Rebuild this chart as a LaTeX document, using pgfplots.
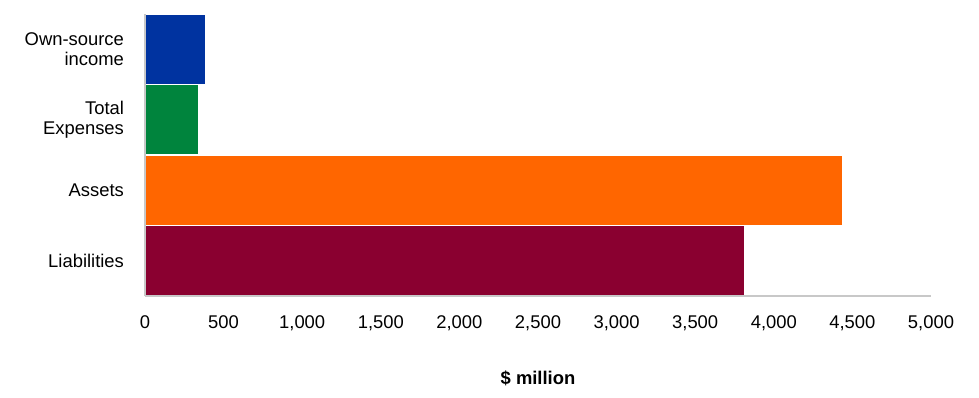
\documentclass[border=0pt]{standalone}
\usepackage{pgfplots}
\pgfplotsset{compat=1.18}
\usepackage{fontspec}
\setmainfont{Liberation Sans}
\definecolor{cblue}{RGB}{0,51,160}
\definecolor{cgreen}{RGB}{0,132,61}
\definecolor{corange}{RGB}{255,102,0}
\definecolor{cmaroon}{RGB}{138,0,48}
\definecolor{axgray}{RGB}{200,200,200}
\begin{document}
\fontsize{13.8}{15.5}\selectfont
\begin{tikzpicture}
\begin{axis}[
  at={(0,0)}, anchor=south west,
  scale only axis,
  width=589.5pt, height=211.5pt,
  xbar, bar shift=0pt, bar width=52.9pt,
  xmin=0, xmax=5000,
  ymin=-0.5, ymax=3.5,
  xtick={0,500,...,5000},
  ytick={0,1,2,3},
  yticklabels={Liabilities,Assets,{Total\\Expenses},{Own-source\\income}},
  axis on top,
  axis x line*=bottom, axis y line*=left,
  axis line style={axgray, line width=0.9pt, -},
  major tick length=0pt,
  x tick label style={yshift=-10pt, font=\fontsize{13.8}{15.5}\selectfont},
  y tick label style={align=right, xshift=-11pt, font=\fontsize{13.8}{15.5}\selectfont},
  /pgf/number format/.cd, 1000 sep={,}, assume math mode=true,
  /pgfplots/.cd,
  xlabel={\textbf{\$ million}},
  xlabel style={at={(axis description cs:0.5,0)}, anchor=center, yshift=-61.5pt, font=\fontsize{13.8}{15.5}\selectfont},
  clip=false,
]
\addplot[fill=cmaroon, draw=white, line width=0.8pt] coordinates {(3817,0)};
\addplot[fill=corange, draw=white, line width=0.8pt] coordinates {(4438,1)};
\addplot[fill=cgreen, draw=white, line width=0.8pt] coordinates {(343,2)};
\addplot[fill=cblue, draw=white, line width=0.8pt] coordinates {(382,3)};
\end{axis}
\pgfresetboundingbox
\useasboundingbox (-108.75pt,-75.75pt) rectangle (625.5pt,222pt);
\end{tikzpicture}
\end{document}
